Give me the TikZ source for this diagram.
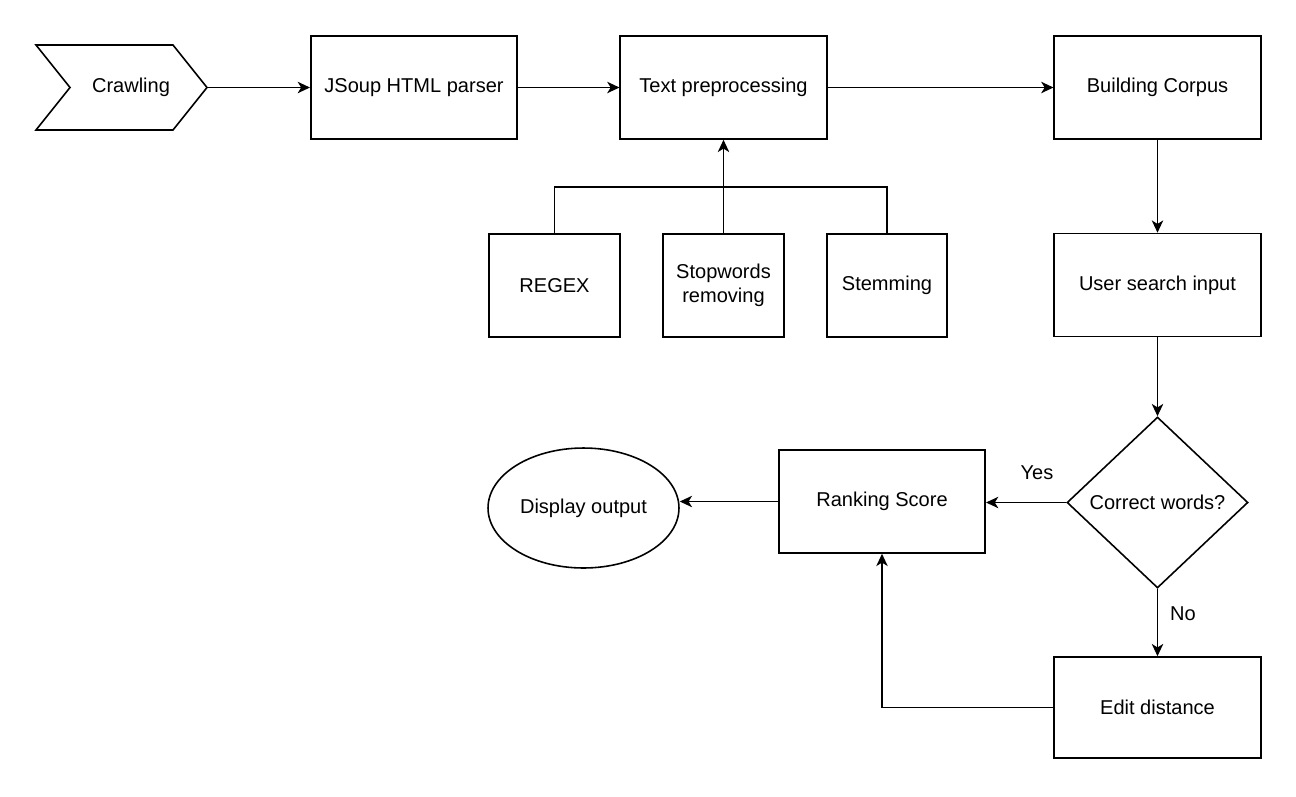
\documentclass[tikz,border=0pt]{standalone}
\usepackage{fontspec}
\setmainfont{Liberation Sans}
\usetikzlibrary{arrows.meta,shapes.geometric}

\tikzset{
  flow/.style={line width=0.9pt},
  arr/.style={flow, -{Stealth[length=7pt,width=6.5pt,inset=2pt]}},
  procbox/.style={draw, flow, inner sep=0pt, align=center,
    minimum width=4.13cm, minimum height=2.06cm},
  smallbox/.style={procbox, minimum width=2.48cm},
  lbl/.style={inner sep=0pt}
}

\begin{document}
\begin{tikzpicture}[x=0.02cm, y=-0.02cm, font=\fontsize{11.4}{13.7}\selectfont]
  \useasboundingbox (0,0) rectangle (1296,796);

  % crawling chevron
  \draw[flow] (36,45) -- (173,45) -- (207,87.5) -- (173,130) -- (36,130) -- (70,87.5) -- cycle;
  \coordinate (crawltip) at (207,87.5);
  \node[lbl] (crawl) at (131,87.5) {Crawling};

  % top row
  \node[procbox] (jsoup) at (414,87.5) {JSoup HTML parser};
  \node[procbox] (textpre) at (723.5,87.5) {Text preprocessing};
  \node[procbox] (corpus) at (1157.5,87.5) {Building Corpus};

  % preprocessing steps
  \node[smallbox, minimum width=2.62cm] (regex) at (554.5,285.5) {REGEX};
  \node[smallbox, minimum width=2.42cm] (stopw) at (723.5,285.5) {Stopwords\\removing};
  \node[smallbox, minimum width=2.40cm] (stem) at (887,285.5) {Stemming};

  % search side
  \node[procbox] (user) at (1157.5,285) {User search input};
  \node[draw, flow, diamond, inner sep=0pt, minimum width=3.62cm, minimum height=3.42cm]
    (check) at (1157.5,502.5) {Correct words?};
  \node[procbox] (rank) at (882,501.5) {Ranking Score};
  \node[draw, flow, ellipse, inner sep=0pt, minimum width=3.82cm, minimum height=2.4cm]
    (display) at (583.5,508) {Display output};
  \node[procbox, minimum height=2.02cm] (edit) at (1157.5,707.5) {Edit distance};

  \coordinate (bus) at (723.5,187);

  \draw[arr] (crawltip) -- (jsoup);
  \draw[arr] (jsoup) -- (textpre);
  \draw[arr] (textpre) -- (corpus);
  \draw[arr] (corpus) -- (user);
  \draw[arr] (user) -- (check);

  \draw[flow] (regex.north) |- (bus) -| (stem.north);
  \draw[arr] (stopw.north) -- (textpre.south);

  \draw[arr] (check.west) -- (rank.east |- check.west);
  \node[lbl] (yes) at (1037,473) {Yes};
  \draw[arr] (check.south) -- (edit.north);
  \node[lbl] (no) at (1183,614) {No};
  \draw[arr] (edit.west) -| (rank.south);
  \draw[arr] (rank.west) -- (rank.west -| display.east);
\end{tikzpicture}
\end{document}
